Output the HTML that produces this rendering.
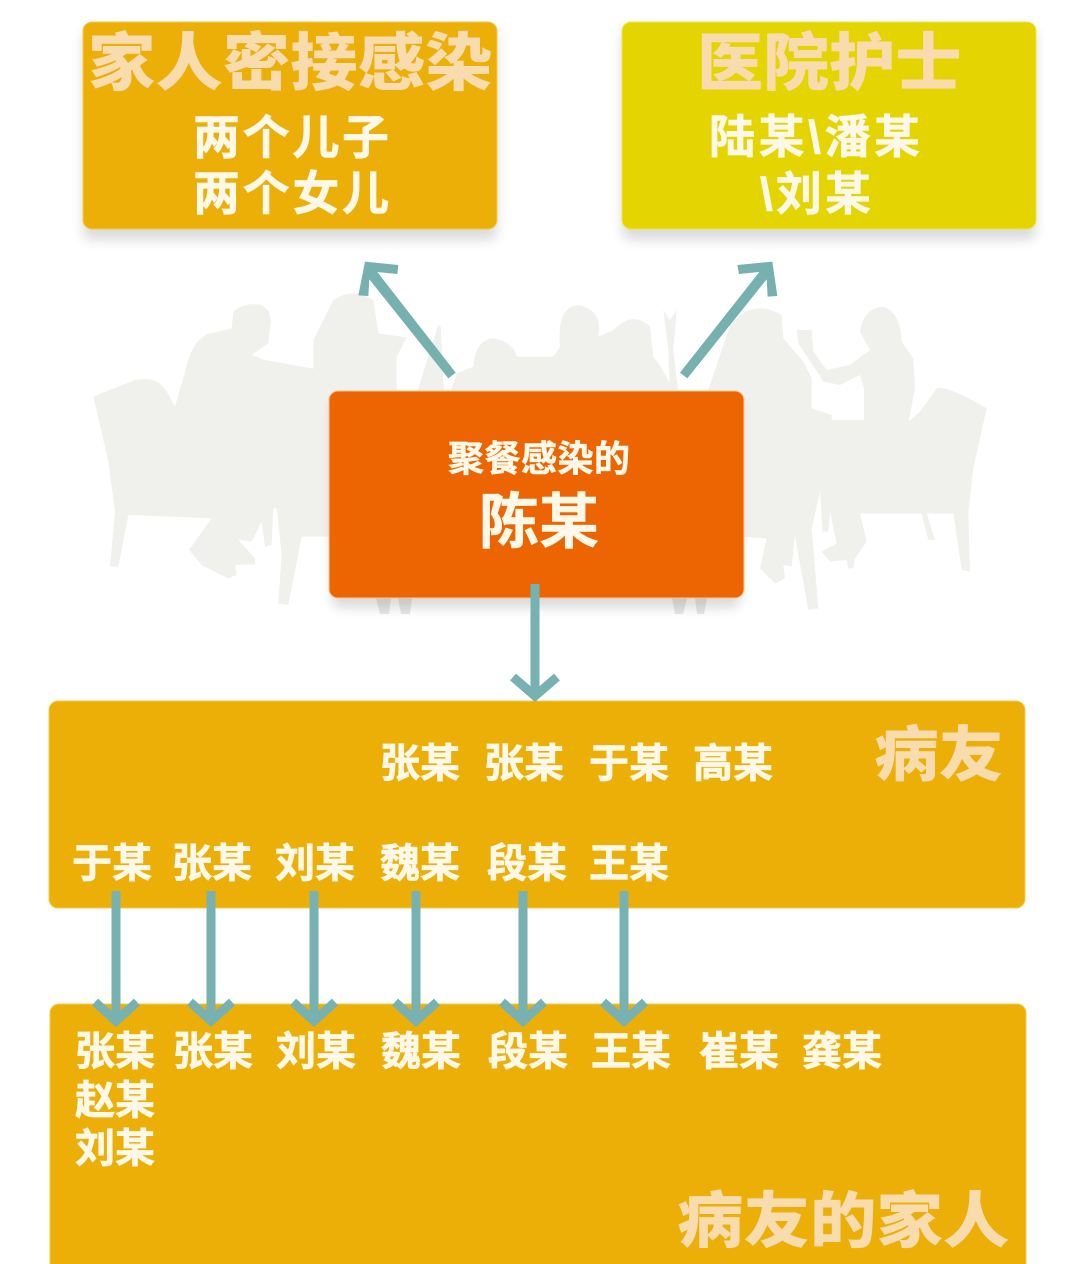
<!DOCTYPE html>
<html lang="zh">
<head>
<meta charset="utf-8">
<style>
html,body{margin:0;padding:0;background:#fff;width:1080px;height:1264px;overflow:hidden}
svg{display:block}
text{font-family:"Liberation Sans","Noto Sans CJK SC",sans-serif;font-weight:700}
.n{font-size:40px;fill:#fdf8e8;stroke:#fdf8e8;stroke-width:.8}
.t{fill:#f8dcae;font-weight:900}
.w{fill:#fdf8e8;stroke:#fdf8e8;stroke-width:.6}
.a{fill:none;stroke:#77b1b2;stroke-width:9}
.f{fill:#77b1af}
</style>
</head>
<body>
<svg width="1080" height="1264" viewBox="0 0 1080 1264" xmlns="http://www.w3.org/2000/svg">
<defs>
<filter id="s" x="-10%" y="-10%" width="120%" height="125%"><feGaussianBlur stdDeviation="6"/></filter>
</defs>
<rect width="1080" height="1264" fill="#fff"/>

<!-- silhouette: left diner and chair -->
<g fill="#f0f0ed" transform="translate(85 295) scale(.33333)">
<path d="M25 305L150 255Q215 240 245 290L270 335L300 230Q320 140 365 118L440 100L445 50Q480 20 530 30Q565 50 555 100L550 145L500 180L540 195L690 222L710 225L750 240V725L650 725L610 930L580 925L590 780L575 640L565 640L560 750L540 755L530 680L500 740L460 735L510 790L510 808L450 810L455 840L430 850L350 810L312 765L380 670L130 660L100 815L75 815L90 650L70 500Z"/>
</g>

<!-- silhouette: centre diners -->
<g fill="#f0f0ed" transform="translate(340 250) scale(.33333)">
<path d="M-80 270L-20 150Q40 110 100 150L115 250L200 262L170 320L170 430H-80Z"/>
<path d="M295 225L302 230L312 430H230Z"/>
<path d="M330 430L350 370L400 350Q405 270 460 265Q520 275 530 320L640 320L660 290Q650 170 715 165Q790 180 775 260L820 240Q880 180 930 230L940 320Q980 370 1000 430Z"/>
<path d="M970 180L990 210L1010 180L1000 300L1015 430H990L985 300Z"/>
</g>

<!-- silhouette: right diners and chair -->
<g fill="#f0f0ed" transform="translate(740 295) scale(.33333)">
<path d="M-100 300L-30 90L0 60Q60 20 125 60L130 130L190 200L215 250L215 340L275 360L275 375H372V280L385 375L505 380L540 350L590 280Q620 270 740 340L700 520L685 650L690 830L665 825L640 655H560L585 735L565 735L545 655H360L380 740L345 790L340 820L325 820L320 795L270 800L245 770L290 745L270 650L265 710L248 710L240 590L215 700L235 940L205 945L175 780L165 720L155 815L130 810L135 850L105 865L60 820L80 730L-100 720Z"/>
<path d="M170 105L215 105L220 170L260 225L330 210L390 165L360 110Q370 40 430 35Q480 50 485 140L520 190L525 280L505 385H372V280L360 240L300 270L250 260L205 190L175 145Z"/>
</g>

<!-- legs under the centre box -->
<g fill="#e8e8e5">
<path d="M376 598h15l-2 16h-9ZM398 598h14l-2 16h-9ZM672 598h15l-4 16h-8ZM695 598h12l-3 16h-7Z"/>
</g>

<!-- shadows -->
<g fill="#000" opacity=".14" filter="url(#s)">
<rect x="83" y="30" width="414" height="210" rx="8"/>
<rect x="622" y="30" width="414" height="210" rx="8"/>
<rect x="332" y="400" width="408" height="208" rx="8"/>
</g>

<!-- boxes -->
<rect x="83" y="22" width="414" height="207" rx="9" fill="#ebaf07" stroke="#f5cb4a" stroke-width="1"/>
<rect x="622" y="22" width="414" height="207" rx="9" fill="#e4d502" stroke="#f0e54a" stroke-width="1"/>
<rect x="329" y="391" width="415" height="207" rx="9" fill="#ed6502" stroke="#fbc590" stroke-width="1"/>
<rect x="49" y="701" width="976" height="207" rx="9" fill="#ebaf07" stroke="#f5cb4a" stroke-width="1"/>
<rect x="50" y="1004" width="976" height="270" rx="9" fill="#ebaf07" stroke="#f5cb4a" stroke-width="1"/>

<!-- top arrows -->
<g class="f" transform="translate(340 250) scale(.33333)">
<polygon points="75,35 175,45 172,72 112,66 347,368 325,385 88,88 85,138 55,136"/>
<polygon points="1297,35 1192,45 1197,72 1258,66 1020,368 1042,385 1280,88 1283,140 1312,138"/>
</g>
<!-- centre arrow -->
<path class="a" d="M535 584V693M513 677L535 696L557 677"/>

<!-- titles -->
<text class="t" transform="translate(88 85) scale(1.07 1)" font-size="63">家人密接感染</text>
<text class="t" transform="translate(697 85) scale(1.05 1)" font-size="63">医院护士</text>
<text class="t" transform="translate(874 776) scale(1.08 1)" font-size="60">病友</text>
<text class="t" transform="translate(677 1242) scale(1.09 1)" font-size="61">病友的家人</text>

<!-- box text -->
<text class="w" x="193" y="154" font-size="47" textLength="196" lengthAdjust="spacing">两个儿子</text>
<text class="w" x="193" y="210" font-size="47" textLength="196" lengthAdjust="spacing">两个女儿</text>
<text class="w" x="709" y="153" font-size="46" textLength="211" lengthAdjust="spacing">陆某\潘某</text>
<text class="w" x="760" y="210" font-size="46" textLength="111" lengthAdjust="spacing">\刘某</text>
<text class="w" x="448" y="471" font-size="36" textLength="182" lengthAdjust="spacing">聚餐感染的</text>
<text class="w" x="479" y="543" font-size="60" textLength="120" lengthAdjust="spacing">陈某</text>

<!-- row 1 -->
<text class="n" x="380" y="777">张某</text>
<text class="n" x="484" y="777">张某</text>
<text class="n" x="589" y="777">于某</text>
<text class="n" x="693" y="777">高某</text>
<!-- row 2 -->
<text class="n" x="72" y="877">于某</text>
<text class="n" x="172" y="877">张某</text>
<text class="n" x="275" y="877">刘某</text>
<text class="n" x="380" y="877">魏某</text>
<text class="n" x="487" y="877">段某</text>
<text class="n" x="589" y="877">王某</text>
<!-- row 3 -->
<text class="n" x="75" y="1065">张某</text>
<text class="n" x="173" y="1065">张某</text>
<text class="n" x="276" y="1065">刘某</text>
<text class="n" x="381" y="1065">魏某</text>
<text class="n" x="488" y="1065">段某</text>
<text class="n" x="591" y="1065">王某</text>
<text class="n" x="699" y="1065">崔某</text>
<text class="n" x="802" y="1065">龚某</text>
<text class="n" x="75" y="1114">赵某</text>
<text class="n" x="75" y="1162">刘某</text>

<!-- lower arrows -->
<path class="a" d="M116 891V1020M95 1002L116 1021L137 1002"/>
<path class="a" d="M211 891V1020M190 1002L211 1021L232 1002"/>
<path class="a" d="M314 891V1020M293 1002L314 1021L335 1002"/>
<path class="a" d="M416 891V1020M395 1002L416 1021L437 1002"/>
<path class="a" d="M523 891V1020M502 1002L523 1021L544 1002"/>
<path class="a" d="M624 891V1020M603 1002L624 1021L645 1002"/>
</svg>
</body>
</html>
